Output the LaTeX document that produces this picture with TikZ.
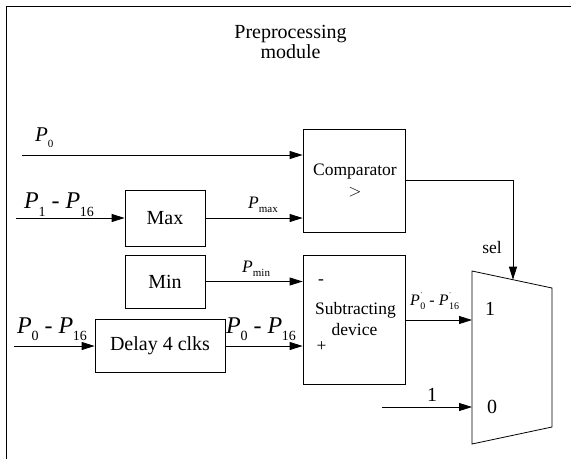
\documentclass[tikz,border=0pt]{standalone}
\usepackage{fontspec}
\setmainfont{Liberation Serif}
\usetikzlibrary{arrows.meta}
% #1 P size, #2 subscript, #3 sub size, #4 drop, #5 kern
\newcommand{\Sym}[5]{{\fontsize{#1}{#1}\selectfont\textit{P}}\kern#5\raisebox{-#4}{\fontsize{#3}{#3}\selectfont #2}}
\newcommand{\SymPr}[4]{{\fontsize{#1}{#1}\selectfont\textit{P}}\kern0.5pt\rlap{\raisebox{9pt}{\fontsize{6pt}{6pt}\selectfont '}}\raisebox{-#4}{\fontsize{#3}{#3}\selectfont #2}}
\newcommand{\Fs}[1]{\fontsize{#1}{#1}\selectfont}
\begin{document}
\begin{tikzpicture}[x=1pt,y=-1pt,
  blk/.style={draw,line width=0.8pt,inner sep=0pt},
  sig/.style={line width=0.8pt,-{Triangle[length=13pt,width=8pt]}},
  wire/.style={line width=0.8pt},
  lbl/.style={inner sep=0pt,anchor=base west},
  txt/.style={inner sep=0pt}]
\useasboundingbox (0,0) rectangle (571,459);
% frame
\draw[wire] (6.5,459) -- (6.5,6.5) -- (571,6.5);
% title
\node[txt,align=center,font=\Fs{20pt}\linespread{1}] (title) at (290.5,42) {Preprocessing\\[-0.8pt]module};
% blocks
\node[blk,minimum width=102pt,minimum height=103pt] (cmp) at (354,180.5) {};
\node[txt,font=\Fs{17.5pt}] (cmpt) at (355,172) {Comparator};
\node[txt,font=\Fs{17.5pt}] (cmpg) at (355,192) {$>$};
\node[blk,minimum width=80pt,minimum height=56pt,font=\Fs{20pt}] (max) at (165,218) {Max};
\node[blk,minimum width=80pt,minimum height=53pt,font=\Fs{20pt}] (min) at (165,281.5) {Min};
\node[blk,minimum width=130pt,minimum height=53pt,font=\Fs{20pt}] (dly) at (160,345.5) {Delay 4 clks};
\node[blk,minimum width=102pt,minimum height=129pt] (sub) at (354,319.5) {};
\node[txt,font=\Fs{17.5pt}] (subm) at (321,282) {-};
\node[txt,font=\Fs{17.5pt},anchor=base] (subt) at (355.5,314) {Subtracting};
\node[txt,font=\Fs{17.5pt},anchor=base] (subd) at (354.5,335) {device};
\node[txt,font=\Fs{17.5pt}] (subp) at (321.5,347) {+};
% mux
\draw[wire] (472,271) -- (552,288) -- (552,427) -- (472,444) -- cycle;
\coordinate (m1) at (472,320);
\coordinate (m0) at (472,407);
\coordinate (msel) at (513,279.7);
\node[txt,font=\Fs{20pt}] (mone) at (490,309) {1};
\node[txt,font=\Fs{20pt}] (mzero) at (492,407) {0};
% inputs
\coordinate (p0s) at (22,155);
\coordinate (p1s) at (16,218);
\coordinate (dls) at (14,346);
\coordinate (ones) at (382,407);
\draw[sig] (p0s) -- (p0s -| cmp.west);
\draw[sig] (p1s) -- (max.west);
\draw[sig] (max.east) -- (max.east -| cmp.west);
\draw[sig] (min.east) -- (min.east -| sub.west);
\draw[sig] (dls) -- (dls -| dly.west);
\draw[sig] (dls -| dly.east) -- (dls -| sub.west);
\draw[sig] (sub.east |- m1) -- (m1);
\draw[sig] (ones) -- (m0);
\draw[sig] (cmp.east) -| (msel);
% labels
\node[lbl] (lp0) at (35,141) {\Sym{21pt}{0}{11pt}{6pt}{-0.02em}};
\node[lbl] (lp1) at (24,208) {\Sym{24pt}{1}{14pt}{8pt}{-0.02em}\Fs{24pt} - \Sym{24pt}{16}{14pt}{8pt}{-0.02em}};
\node[lbl] (lmax) at (248,208) {\Sym{17.5pt}{max}{11pt}{4.5pt}{0pt}};
\node[lbl] (lmin) at (242,272) {\Sym{17.5pt}{min}{11pt}{4pt}{0pt}};
\node[lbl] (ld0) at (17,333) {\Sym{24pt}{0}{14pt}{7pt}{-0.02em}\Fs{24pt} - \Sym{24pt}{16}{14pt}{7pt}{-0.02em}};
\node[lbl] (ld1) at (226,333) {\Sym{24pt}{0}{14pt}{7pt}{-0.02em}\Fs{24pt} - \Sym{24pt}{16}{14pt}{7pt}{-0.02em}};
\node[lbl] (lpr) at (410,305) {\SymPr{16pt}{0}{10pt}{4pt}\Fs{16pt} - \SymPr{16pt}{16}{10pt}{4pt}};
\node[txt,font=\Fs{17.5pt},anchor=base] (lsel) at (492,253) {sel};
\node[txt,font=\Fs{20pt}] (lone) at (432,395) {1};
\end{tikzpicture}
\end{document}
